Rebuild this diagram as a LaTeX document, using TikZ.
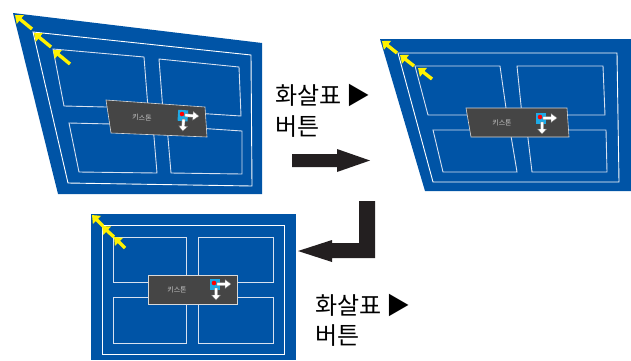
\documentclass[tikz,border=0pt]{standalone}
\usepackage{fontspec}
\newfontfamily\kr{Noto Sans CJK KR}
\usetikzlibrary{arrows.meta}
\definecolor{panelblue}{RGB}{0,84,166}
\definecolor{boxgray}{RGB}{69,69,69}
\definecolor{iconcyan}{RGB}{30,170,230}
\definecolor{arrowblack}{RGB}{35,31,32}
\definecolor{quadline}{RGB}{215,225,240}

\begin{document}
\begin{tikzpicture}[x=1pt,y=-1pt,
	panel/.style={fill=panelblue},
	frame/.style={draw=white,line width=0.9pt},
	quad/.style={draw=quadline,line width=0.9pt},
	kbox/.style={fill=boxgray,draw=white!85!black,line width=0.6pt},
	ktext/.style={text=white!78!black,font=\kr\fontsize{7}{8}\selectfont,inner sep=0pt},
	yarrow/.style={draw=yellow,line width=3.4pt,-{Triangle[length=7pt,width=11pt]}},
	bigarrow/.style={fill=arrowblack},
	hint/.style={font=\kr\fontsize{24}{30}\selectfont,anchor=base west,inner sep=0pt},
	kicon/.pic={
		\fill[iconcyan] (-4,-4) rectangle (6,7);
		\draw[fill=white,draw=black!55,line width=0.3pt] (3,-0.5) -- (11,-0.5) -- (11,-3.5) -- (17,1) -- (11,5.5) -- (11,2.5) -- (3,2.5) -- cycle;
		\draw[fill=white,draw=black!55,line width=0.3pt] (0.5,5) -- (3.5,5) -- (3.5,12) -- (6.5,12) -- (2,17) -- (-2.5,12) -- (0.5,12) -- cycle;
		\fill[red] (0,0) circle (2.3);
	}]
	\useasboundingbox (0,0) rectangle (631,360);
		\fill[panel] (13,13) -- (262,43) -- (262,194) -- (58,194) -- cycle;
		\draw[frame] (33,32) -- (251,55) -- (252,186) -- (68,183) -- cycle;
		\draw[quad] (53,49) -- (144,57) -- (148,108) -- (64,106) -- cycle;
		\draw[quad] (159,59) -- (239,67) -- (241,116) -- (163,111) -- cycle;
		\draw[quad] (69,123) -- (153,125) -- (157,173) -- (79,172) -- cycle;
		\draw[quad] (167,126) -- (242,131) -- (242,174) -- (171,173) -- cycle;
		\draw[kbox] (106,100) -- (205,107) -- (207,137) -- (111,133) -- cycle;
		\node[ktext,rotate=-4] (ks1) at (142,118) {키스톤};
		\pic[rotate=-4] at (182,114) {kicon};
		\draw[yarrow] (32,29) -- (15,15);
		\draw[yarrow] (51,47) -- (34,33);
		\draw[yarrow] (70,64) -- (53,50);

		\fill[panel] (380,39) -- (631,39) -- (631,191) -- (425,191) -- cycle;
		\draw[frame] (398,53) -- (617,53) -- (619,182) -- (433,182) -- cycle;
		\draw[quad] (415,66) -- (500,66) -- (507,115) -- (428,115) -- cycle;
		\draw[quad] (517,66) -- (603,66) -- (605,115) -- (522,115) -- cycle;
		\draw[quad] (433,130) -- (510,130) -- (517,172) -- (443,172) -- cycle;
		\draw[quad] (527,130) -- (606,130) -- (607,172) -- (532,172) -- cycle;
		\draw[kbox] (466,108) -- (567,108) -- (569,137) -- (471,137) -- cycle;
		\node[ktext] (ks2) at (502,123) {키스톤};
		\pic at (540,117) {kicon};
		\draw[yarrow] (397,53) -- (382,41);
		\draw[yarrow] (414,66) -- (400,55);
		\draw[yarrow] (432,79) -- (418,68);

		\fill[panel] (91,214) rectangle (296,360);
		\draw[frame] (102,225) rectangle (284,354);
		\draw[quad] (113,237) rectangle (186,282);
		\draw[quad] (198,237) rectangle (273,282);
		\draw[quad] (113,297) rectangle (186,343);
		\draw[quad] (198,297) rectangle (273,343);
		\draw[kbox] (148,275) rectangle (237,304);
		\node[ktext] (ks3) at (177,290) {키스톤};
		\pic at (214,283) {kicon};
		\draw[yarrow] (103,226) -- (92,215);
		\draw[yarrow] (114,237) -- (102,226);
		\draw[yarrow] (125,248) -- (114,237);

		\fill[bigarrow] (292,154) -- (337,154) -- (337,149) -- (370,160.5) -- (337,172) -- (337,167) -- (292,167) -- cycle;
		\fill[bigarrow] (359,201) -- (375,201) -- (375,258) -- (332,258) -- (332,262) -- (298,251) -- (332,240) -- (332,243) -- (359,243) -- cycle;

		\node[hint] (hintA1) at (275,104) {화살표 ▶};
		\node[hint] (hintA2) at (275,135) {버튼};
		\node[hint] (hintB1) at (315,314) {화살표 ▶};
		\node[hint] (hintB2) at (315,344) {버튼};
\end{tikzpicture}
\end{document}
